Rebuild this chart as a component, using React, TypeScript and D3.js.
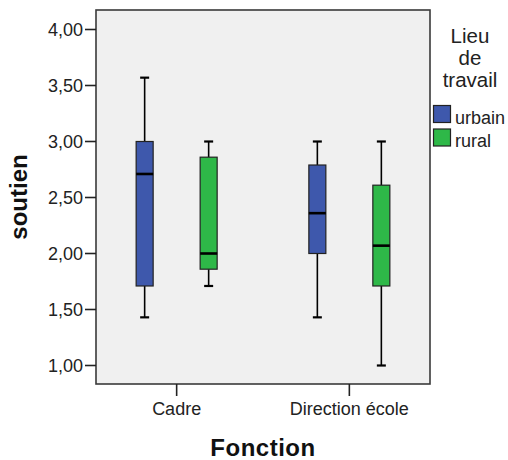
import React from "react";
import * as d3 from "d3";

const categories = ["Cadre", "Direction école"];
const groups = ["urbain", "rural"];
const groupColors = ["#3E58AC", "#2EB848"];
// per group, per category
const whiskerLow = [[1.43, 1.43], [1.71, 1.0]];
const quartile1 = [[1.71, 2.0], [1.86, 1.71]];
const medians = [[2.71, 2.36], [2.0, 2.07]];
const quartile3 = [[3.0, 2.79], [2.86, 2.61]];
const whiskerHigh = [[3.57, 3.0], [3.0, 3.0]];
const yTicks = [1.0, 1.5, 2.0, 2.5, 3.0, 3.5, 4.0];
const yTitle = "soutien";
const xTitle = "Fonction";
const legendTitle = ["Lieu", "de", "travail"];

const W = 508;
const H = 460;
const left = 96;
const right = 430;
const top = 10;
const bottom = 384;
const font = "'Liberation Sans', Arial, sans-serif";

export default function App() {
  const y = d3.scaleLinear().domain([1, 4]).range([365.5, 29.5]);
  const x = d3.scalePoint<string>().domain(categories).range([left, right]).padding(0.467);
  const inner = d3.scaleBand<string>().domain(groups).range([-64, 64]).paddingInner(0);
  const boxW = 17;
  const capW = 9;
  const fmt = (v: number) => d3.format(".2f")(v).replace(".", ",");

  const boxes: React.ReactNode[] = [];
  groups.forEach((g, gi) => {
    categories.forEach((c, ci) => {
      const cx = (x(c) as number) + (inner(g) as number) + inner.bandwidth() / 2;
      const lo = whiskerLow[gi][ci];
      const q1 = quartile1[gi][ci];
      const md = medians[gi][ci];
      const q3 = quartile3[gi][ci];
      const hi = whiskerHigh[gi][ci];
      boxes.push(
        <g key={g + c}>
          <line x1={cx} x2={cx} y1={y(hi)} y2={y(q3)} stroke="#000" strokeWidth={1.6} />
          <line x1={cx} x2={cx} y1={y(q1)} y2={y(lo)} stroke="#000" strokeWidth={1.6} />
          <line x1={cx - capW / 2} x2={cx + capW / 2} y1={y(hi)} y2={y(hi)} stroke="#000" strokeWidth={2.2} />
          <line x1={cx - capW / 2} x2={cx + capW / 2} y1={y(lo)} y2={y(lo)} stroke="#000" strokeWidth={2.2} />
          <rect
            x={cx - boxW / 2}
            y={y(q3)}
            width={boxW}
            height={y(q1) - y(q3)}
            fill={groupColors[gi]}
            stroke="#222"
            strokeWidth={1.2}
          />
          <line x1={cx - boxW / 2} x2={cx + boxW / 2} y1={y(md)} y2={y(md)} stroke="#000" strokeWidth={2.6} />
        </g>
      );
    });
  });

  return (
    <svg
      width={W}
      height={H}
      style={{ position: "absolute", left: 0, top: 0, display: "block", background: "#fff" }}
      fontFamily={font}
    >
      <rect x={left} y={top} width={right - left} height={bottom - top} fill="#F0F0F0" stroke="#3a3a3a" strokeWidth={1.6} />
      {yTicks.map((t) => (
        <g key={t}>
          <line x1={85} x2={left} y1={y(t)} y2={y(t)} stroke="#222" strokeWidth={1.6} />
          <text x={83} y={y(t)} dy="0.35em" textAnchor="end" fontSize={18} fill="#222">
            {fmt(t)}
          </text>
        </g>
      ))}
      {categories.map((c) => (
        <g key={c}>
          <line x1={x(c)} x2={x(c)} y1={bottom} y2={396} stroke="#222" strokeWidth={1.6} />
          <text x={x(c)} y={415} textAnchor="middle" fontSize={18} fill="#222">
            {c}
          </text>
        </g>
      ))}
      {boxes}
      <text
        transform={`translate(27,${(top + bottom) / 2}) rotate(-90)`}
        textAnchor="middle"
        fontSize={24}
        fontWeight="bold"
        fill="#111"
      >
        {yTitle}
      </text>
      <text x={(left + right) / 2} y={456} textAnchor="middle" fontSize={24} fontWeight="bold" fill="#111" letterSpacing={0.5}>
        {xTitle}
      </text>
      {legendTitle.map((t, i) => (
        <text key={t} x={470} y={42.5 + i * 22} textAnchor="middle" fontSize={20.5} fill="#222">
          {t}
        </text>
      ))}
      {groups.map((g, i) => (
        <g key={g}>
          <rect x={433.5} y={105.5 + i * 23.5} width={17} height={17} fill={groupColors[i]} stroke="#222" strokeWidth={1.2} />
          <text x={455} y={123.5 + i * 23} fontSize={18} fill="#222">
            {g}
          </text>
        </g>
      ))}
    </svg>
  );
}
